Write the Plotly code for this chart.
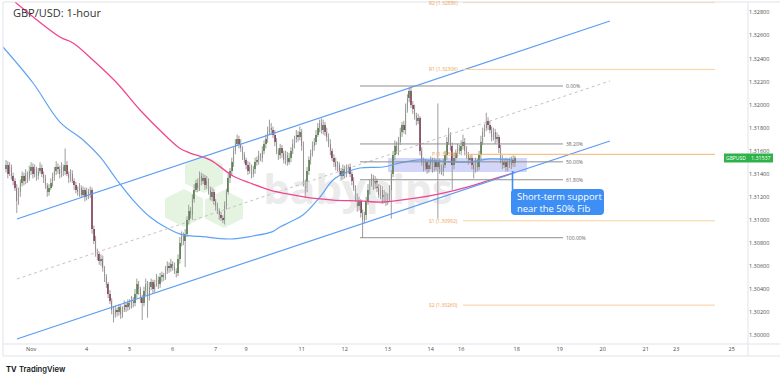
import plotly.graph_objects as go

# ---------------- data (prices in pips above 1.30000) ----------------
BASE = 1.30
PIP = 0.0001
open0_pips = 144

close_pips = [
    148, 140, 146, 138, 134, 128, 116, 124, 132, 138,
    134, 140, 136, 142, 146, 140, 144, 138, 142, 145,
    140, 136, 130, 124, 128, 132, 138, 142, 146, 144,
    140, 146, 142, 148, 140, 136, 140, 134, 130, 126,
    124, 128, 122, 126, 120, 124, 122, 126, 92, 82,
    72, 70, 64, 66, 58, 50, 44, 36, 30, 22,
    18, 22, 20, 24, 18, 22, 26, 24, 28, 26,
    30, 28, 36, 44, 40, 32, 28, 38, 44, 34,
    42, 46, 40, 44, 48, 44, 50, 52, 50, 56,
    60, 58, 62, 60, 56, 54, 66, 80, 86, 82,
    88, 100, 108, 104, 118, 126, 132, 128, 138, 134,
    136, 130, 134, 126, 120, 124, 116, 112, 108, 104,
    102, 100, 112, 124, 136, 142, 150, 160, 166, 170,
    166, 162, 156, 152, 148, 142, 146, 140, 144, 150,
    152, 156, 154, 160, 166, 170, 176, 180, 178, 174,
    168, 160, 156, 162, 158, 152, 156, 150, 154, 160,
    166, 170, 174, 172, 176, 164, 132, 128, 142, 152,
    158, 164, 168, 174, 180, 184, 178, 182, 176, 172,
    166, 160, 154, 150, 146, 148, 142, 138, 144, 140,
    144, 146, 140, 134, 128, 120, 112, 116, 106, 100,
    104, 116, 126, 132, 136, 130, 134, 128, 122, 126,
    118, 122, 116, 120, 126, 140, 156, 164, 160, 168,
    176, 182, 178, 196, 206, 212, 200, 196, 190, 186,
    188, 160, 150, 146, 150, 144, 148, 152, 146, 150,
    146, 150, 144, 142, 148, 156, 168, 174, 164, 148,
    154, 158, 162, 160, 164, 168, 160, 156, 152, 154,
    148, 144, 150, 146, 156, 168, 176, 180, 186, 182,
    178, 172, 176, 170, 172, 162, 152, 148, 150, 146,
    150, 148, 152, 149, 153.7,
]

upper_wick_pips = [
    4, 3, 4, 2, 3, 2, 3, 4, 3, 4,
    3, 4, 2, 5, 4, 3, 4, 2, 3, 5,
    3, 2, 3, 2, 3, 4, 3, 4, 5, 3,
    3, 4, 2, 14, 3, 2, 4, 3, 2, 3,
    3, 4, 2, 3, 2, 4, 3, 3, 2, 3,
    4, 3, 2, 4, 3, 2, 3, 2, 3, 2,
    3, 4, 2, 3, 2, 3, 4, 2, 3, 3,
    4, 3, 4, 5, 3, 2, 3, 4, 5, 3,
    4, 3, 2, 4, 5, 3, 4, 3, 2, 4,
    4, 3, 4, 2, 3, 2, 4, 5, 4, 3,
    4, 3, 5, 3, 4, 5, 3, 4, 4, 3,
    4, 3, 4, 2, 3, 4, 3, 2, 3, 2,
    3, 2, 4, 3, 4, 3, 4, 3, 4, 4,
    3, 4, 2, 3, 2, 3, 4, 2, 3, 4,
    3, 4, 2, 4, 3, 4, 5, 7, 4, 3,
    4, 3, 2, 4, 3, 2, 4, 3, 4, 3,
    4, 3, 4, 3, 5, 3, 4, 3, 4, 3,
    3, 4, 3, 4, 4, 3, 4, 5, 3, 4,
    3, 4, 2, 3, 4, 3, 2, 3, 4, 3,
    4, 2, 3, 2, 3, 2, 3, 4, 2, 3,
    3, 4, 5, 3, 4, 3, 4, 2, 3, 4,
    3, 4, 2, 3, 4, 3, 4, 5, 4, 4,
    4, 3, 4, 5, 3, 3, 4, 3, 4, 3,
    4, 2, 3, 4, 3, 2, 4, 3, 2, 4,
    3, 51, 3, 4, 5, 4, 4, 6, 2, 3,
    4, 3, 4, 3, 5, 6, 3, 4, 3, 2,
    3, 2, 4, 3, 4, 5, 4, 3, 7, 3,
    4, 3, 4, 3, 4, 2, 3, 4, 3, 4,
    3, 4, 3, 4, 2,
]

lower_wick_pips = [
    3, 4, 2, 3, 4, 3, 10, 3, 4, 3,
    4, 3, 4, 2, 3, 4, 3, 4, 3, 2,
    3, 4, 3, 4, 3, 2, 3, 4, 3, 4,
    4, 3, 4, 3, 2, 4, 3, 2, 4, 3,
    3, 4, 3, 2, 4, 3, 4, 3, 4, 3,
    4, 5, 3, 4, 3, 4, 3, 4, 3, 4,
    7, 3, 4, 3, 4, 3, 2, 4, 3, 4,
    3, 4, 3, 4, 5, 4, 15, 3, 4, 19,
    4, 3, 4, 3, 2, 4, 3, 4, 3, 2,
    3, 4, 3, 4, 3, 4, 3, 4, 3, 4,
    23, 3, 4, 3, 4, 3, 2, 4, 3, 4,
    3, 4, 3, 4, 3, 4, 3, 4, 3, 4,
    3, 3, 4, 3, 2, 4, 3, 4, 3, 2,
    4, 3, 4, 3, 4, 3, 2, 4, 3, 4,
    3, 4, 3, 4, 3, 4, 3, 2, 4, 3,
    4, 3, 4, 3, 4, 3, 4, 3, 2, 4,
    3, 4, 3, 4, 3, 4, 3, 9, 4, 3,
    4, 3, 4, 3, 2, 4, 3, 4, 3, 4,
    3, 4, 3, 4, 3, 4, 3, 4, 3, 4,
    3, 4, 3, 4, 3, 4, 5, 4, 4, 15.5,
    3, 4, 3, 4, 3, 4, 3, 4, 3, 4,
    4, 3, 4, 3, 4, 25, 3, 4, 3, 4,
    3, 4, 3, 4, 3, 4, 3, 4, 3, 4,
    3, 4, 3, 4, 3, 4, 3, 4, 5, 4,
    3, 45, 4, 3, 4, 3, 4, 3, 4, 22,
    4, 3, 4, 3, 4, 3, 4, 3, 4, 3,
    4, 8, 3, 4, 3, 4, 3, 4, 3, 4,
    3, 4, 3, 4, 3, 4, 3, 4, 3, 4,
    4, 3, 4, 3, 3,
]

# moving averages (bar index, pips)
ma100_idx = [-1.7, 15.1, 30.1, 43.0, 52.5, 61.9, 70.9, 80.4, 89.8, 98.8, 108.3, 125.0,
             137.8, 148.4, 152.9, 158.5, 165.7, 175.2, 182.5, 190.3, 197.5, 210.4,
             219.9, 231.0, 247.8, 258.9, 270.1, 282.9]
ma100_pips = [250.1, 218.8, 184.9, 169.3, 154.6, 134.6, 117.2, 102.5, 92.9, 86.9, 85.6, 83.4,
              86.0, 89.6, 93.8, 98.1, 104.2, 119.8, 134.6, 141.5, 145.0, 145.9,
              149.4, 152.0, 150.3, 150.3, 152.9, 152.0]
ma200_idx = [5.0, 30.1, 37.4, 48.5, 61.9, 74.8, 89.8, 97.1, 102.7, 113.8, 126.7, 136.2,
             147.3, 160.2, 169.6, 182.5, 197.5, 210.4, 229.4, 243.9, 257.3, 270.1, 279.6, 284.0]
ma200_pips = [289.1, 258.7, 253.5, 238.8, 218.8, 195.4, 171.9, 162.0, 158.0, 152.0, 138.1, 132.0,
              125.9, 121.6, 119.0, 117.2, 116.4, 115.5, 119.0, 123.3, 128.5, 134.6, 139.0, 141.5]

# ascending channel (bar index, pips)
chan_idx = [6.1, 337.0]
chan_upper_pips = [100.75, 272.6]
chan_lower_pips = [-3.4, 168.5]

# Fibonacci retracement
fib_high = 1.32162
fib_low = 1.30845
fib_levels = [0.0, 0.382, 0.5, 0.618, 1.0]
fib_labels = ["0.00%", "38.20%", "50.00%", "61.80%", "100.00%"]
fib_idx = [197.5, 310.8]

# pivot levels
pivot_names = ["R2", "R1", "P", "S1", "S2"]
pivot_values = [1.32886, 1.32306, 1.31569, 1.30992, 1.30260]
pivot_idx = [255.0, 395.6]

# support zone
zone_idx = [213.2, 290.7]
zone_prices = [1.31415, 1.31537]

# axis ticks
x_tick_idx = [14, 45, 69, 93, 117, 134, 165, 189, 213, 237, 254, 285, 309, 333, 357, 374, 405]
x_tick_text = ["Nov", "4", "5", "6", "7", "9", "11", "12", "13", "14", "16", "18", "19",
               "20", "21", "23", "25"]
y_tick_vals = [1.300, 1.302, 1.304, 1.306, 1.308, 1.310, 1.312, 1.314, 1.316, 1.318,
               1.320, 1.322, 1.324, 1.326, 1.328]
last_price = 1.31537
symbol = "GBPUSD"
title = "GBP/USD: 1-hour"
callout = "Short-term support<br>near the 50% Fib"

# ---------------- build ----------------
n = len(close_pips)
idx = list(range(n))
close = [BASE + v * PIP for v in close_pips]
opn = [BASE + open0_pips * PIP] + close[:-1]
high = [max(o, c) + u * PIP for o, c, u in zip(opn, close, upper_wick_pips)]
low = [min(o, c) - l * PIP for o, c, l in zip(opn, close, lower_wick_pips)]

UP = "#3f7d2a"
DN = "#8a1c4b"
WICK = "#9c9c9c"

W, H = 780, 381
L, R, T, B = 3, 32, 2, 37
PW, PH = W - L - R, H - T - B


def px(x):
    return (x - L) / PW


def py(y):
    return (H - B - y) / PH


X0, X1 = -1.674, 414.06
Y0, Y1 = 1.299224, 1.328911

fig = go.Figure()

# watermark text (below data)
fig.add_trace(go.Scatter(
    x=[196.4], y=[1.31233], mode="text", text=["babypips"],
    textfont=dict(size=42, color="#ebebeb", family="Open Sans", weight="bold"),
    hoverinfo="skip", showlegend=False))

# wicks
wx, wy = [], []
for i in idx:
    wx += [i, i, None]
    wy += [low[i], high[i], None]
fig.add_trace(go.Scatter(x=wx, y=wy, mode="lines", line=dict(color=WICK, width=1),
                         hoverinfo="skip", showlegend=False))

# bodies
base = [min(o, c) for o, c in zip(opn, close)]
hgt = [max(abs(c - o), 0.6 * PIP) for o, c in zip(opn, close)]
cols = [UP if c >= o else DN for o, c in zip(opn, close)]
fig.add_trace(go.Bar(x=idx, y=hgt, base=base, marker=dict(color=cols, line=dict(width=0)),
                     width=0.8, hoverinfo="skip", showlegend=False))

# moving averages
fig.add_trace(go.Scatter(x=ma100_idx, y=[BASE + v * PIP for v in ma100_pips], mode="lines",
                         line=dict(color="#5ea3f2", width=1.2), line_shape="spline",
                         hoverinfo="skip", showlegend=False))
fig.add_trace(go.Scatter(x=ma200_idx, y=[BASE + v * PIP for v in ma200_pips], mode="lines",
                         line=dict(color="#f0468f", width=1.3), line_shape="spline",
                         hoverinfo="skip", showlegend=False))

# channel
for arr in (chan_upper_pips, chan_lower_pips):
    fig.add_trace(go.Scatter(x=chan_idx, y=[BASE + v * PIP for v in arr], mode="lines",
                             line=dict(color="#5b9cf6", width=1.2),
                             hoverinfo="skip", showlegend=False))
mid = [(a + b) / 2 for a, b in zip(chan_upper_pips, chan_lower_pips)]
fig.add_trace(go.Scatter(x=chan_idx, y=[BASE + v * PIP for v in mid], mode="lines",
                         line=dict(color="#c4c4c4", width=1, dash="dot"),
                         hoverinfo="skip", showlegend=False))

shapes = []
annotations = []

# babypips hexagons (watermark)
for cx, cy in [(204, 174), (184, 208), (224, 209)]:
    r = 19
    pts = [(cx, cy - r), (cx + r, cy - r / 2), (cx + r, cy + r / 2), (cx, cy + r),
           (cx - r, cy + r / 2), (cx - r, cy - r / 2)]
    path = "M " + " L ".join(f"{px(a):.5f},{py(b):.5f}" for a, b in pts) + " Z"
    shapes.append(dict(type="path", xref="paper", yref="paper", path=path,
                       fillcolor="rgba(205,235,200,0.55)", line=dict(width=0), layer="below"))

# support zone
shapes.append(dict(type="rect", xref="x", yref="y", x0=zone_idx[0], x1=zone_idx[1],
                   y0=zone_prices[0], y1=zone_prices[1],
                   fillcolor="rgba(110,120,235,0.30)", line=dict(width=0), layer="below"))

# fib
rng = fib_high - fib_low
for lv, lab in zip(fib_levels, fib_labels):
    p = fib_high - lv * rng
    shapes.append(dict(type="line", xref="x", yref="y", x0=fib_idx[0], x1=fib_idx[1],
                       y0=p, y1=p, line=dict(color="#8f8f8f", width=1)))
    annotations.append(dict(x=fib_idx[1] + 0.8, y=p, xref="x", yref="y", text=lab,
                            showarrow=False, xanchor="left", yanchor="middle",
                            font=dict(size=5, color="#666666", family="Open Sans")))

# pivots
for nm, val in zip(pivot_names, pivot_values):
    strong = nm == "P"
    shapes.append(dict(type="line", xref="x", yref="y", x0=pivot_idx[0] + (1.5 if strong else 0),
                       x1=pivot_idx[1], y0=val, y1=val,
                       line=dict(color="#f6b26b" if strong else "#f9cf9f", width=1)))
    annotations.append(dict(x=pivot_idx[0] - 1.5, y=val, xref="x", yref="y",
                            text=f"{nm} ({val:.5f})", showarrow=False, xanchor="right",
                            yanchor="middle",
                            font=dict(size=5, color="#f0a050", family="Open Sans")))

# callout box
bx0, bx1, by0, by1, rr = 511, 604, 189, 215, 4
path = (f"M {px(bx0 + rr)},{py(by0)} L {px(bx1 - rr)},{py(by0)} "
        f"Q {px(bx1)},{py(by0)} {px(bx1)},{py(by0 + rr)} L {px(bx1)},{py(by1 - rr)} "
        f"Q {px(bx1)},{py(by1)} {px(bx1 - rr)},{py(by1)} L {px(bx0 + rr)},{py(by1)} "
        f"Q {px(bx0)},{py(by1)} {px(bx0)},{py(by1 - rr)} L {px(bx0)},{py(by0 + rr)} "
        f"Q {px(bx0)},{py(by0)} {px(bx0 + rr)},{py(by0)} Z")
shapes.append(dict(type="path", xref="paper", yref="paper", path=path,
                   fillcolor="#3d8ef5", line=dict(width=0)))
shapes.append(dict(type="line", xref="paper", yref="paper", x0=px(512.5), x1=px(512.5),
                   y0=py(171), y1=py(190), line=dict(color="#3d8ef5", width=1.6)))
annotations.append(dict(x=px(515), y=py(202), xref="paper", yref="paper", text=callout,
                        showarrow=False, xanchor="left", yanchor="middle", align="left",
                        font=dict(size=9.4, color="white", family="Open Sans")))

# frame lines
FR = "#e0e3eb"
shapes += [
    dict(type="line", xref="paper", yref="paper", x0=0, x1=px(780), y0=1, y1=1,
         line=dict(color=FR, width=1)),
    dict(type="line", xref="paper", yref="paper", x0=0, x1=px(780), y0=0, y1=0,
         line=dict(color=FR, width=1)),
    dict(type="line", xref="paper", yref="paper", x0=0, x1=px(780), y0=py(356), y1=py(356),
         line=dict(color=FR, width=1)),
    dict(type="line", xref="paper", yref="paper", x0=1, x1=1, y0=py(356), y1=1,
         line=dict(color=FR, width=1)),
    dict(type="line", xref="paper", yref="paper", x0=0, x1=0, y0=py(356), y1=1,
         line=dict(color=FR, width=1)),
]

# last price badges
bh = 0.00039
shapes.append(dict(type="rect", xref="paper", yref="y", x0=px(724), x1=1,
                   y0=last_price - bh, y1=last_price + bh, fillcolor="#2db34a", line=dict(width=0)))
shapes.append(dict(type="rect", xref="paper", yref="y", x0=1, x1=px(773),
                   y0=last_price - bh, y1=last_price + bh, fillcolor="#2db34a", line=dict(width=0)))
annotations.append(dict(x=px(746.5), y=last_price, xref="paper", yref="y", text=symbol,
                        showarrow=False, xanchor="right", yanchor="middle", borderpad=0,
                        font=dict(size=5, color="white", family="Open Sans")))
annotations.append(dict(x=px(750), y=last_price, xref="paper", yref="y",
                        text=f"{last_price:.5f}", showarrow=False, xanchor="left",
                        yanchor="middle", borderpad=0,
                        font=dict(size=5.3, color="white", family="Open Sans")))

# title & logo
annotations.append(dict(x=px(11), y=py(12.5), xref="paper", yref="paper", text=title,
                        showarrow=False, xanchor="left", yanchor="middle",
                        font=dict(size=11, color="#333333", family="Open Sans")))
annotations.append(dict(x=px(4), y=py(369.5), xref="paper", yref="paper", text="<b>TV</b>",
                        showarrow=False, xanchor="left", yanchor="middle",
                        font=dict(size=7.5, color="#131722", family="Inter")))
annotations.append(dict(x=px(17), y=py(369.5), xref="paper", yref="paper", text="TradingView",
                        showarrow=False, xanchor="left", yanchor="middle",
                        font=dict(size=7.6, color="#131722", family="Inter", weight=600)))

fig.update_layout(
    width=W, height=H, margin=dict(l=L, r=R, t=T, b=B),
    paper_bgcolor="white", plot_bgcolor="white", showlegend=False, bargap=0,
    shapes=shapes, annotations=annotations,
    xaxis=dict(range=[X0, X1], tickvals=x_tick_idx, ticktext=x_tick_text, showgrid=False,
               zeroline=False, showline=False, ticks="", tickfont=dict(size=5.5, color="#4a4a4a",
               family="Open Sans"), fixedrange=True),
    yaxis=dict(range=[Y0, Y1], side="right", tickvals=y_tick_vals,
               ticktext=[f"{v:.5f}" for v in y_tick_vals], showgrid=False, zeroline=False,
               showline=False, ticks="", ticklabelstandoff=0,
               tickfont=dict(size=5.5, color="#4a4a4a", family="Open Sans"), fixedrange=True),
)

fig.write_html("out.html", config={"displayModeBar": False, "staticPlot": True},
               post_script="document.body.style.margin='0';document.body.style.padding='0';")
